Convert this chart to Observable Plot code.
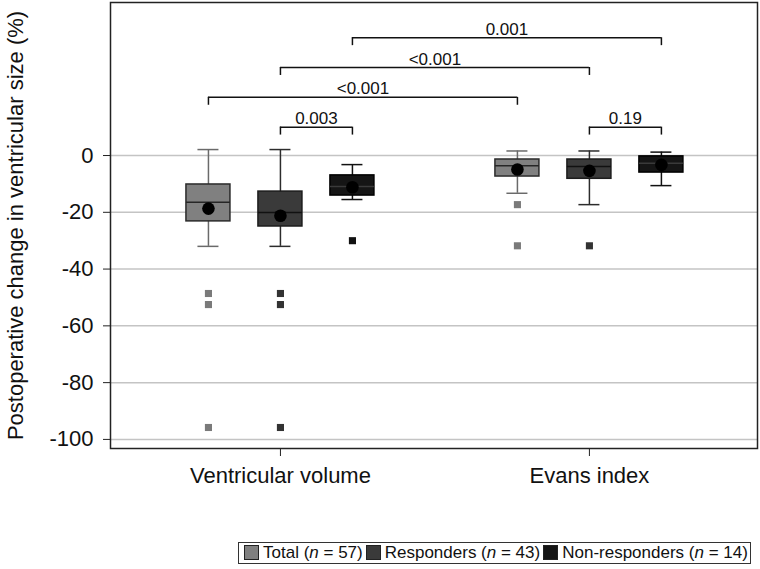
<!DOCTYPE html>
<html>
<head>
<meta charset="utf-8">
<script src="https://cdn.jsdelivr.net/npm/d3@7"></script>
<script src="https://cdn.jsdelivr.net/npm/@observablehq/plot@0.6"></script>
<style>
  body { margin: 0; background: #fff; font-family: "Liberation Sans", Arial, sans-serif; }
  #legend { position: absolute; left: 238px; top: 542px; border: 1.5px solid #333; padding: 0 2px; font-size: 17px; line-height: 20px; white-space: nowrap; color: #111; }
  #legend .sw { display: inline-block; width: 15px; height: 15px; border: 1px solid #222; vertical-align: -2px; margin: 0 4px 0 3px; box-sizing: border-box; }
</style>
</head>
<body>
<div id="chart"></div>
<div id="legend"></div>
<script>
// ---- data ----
const categories = ["Ventricular volume", "Evans index"];
const groups = ["Total", "Responders", "Non-responders"];
const groupN = [57, 43, 14];

// one entry per box (category index, group index)
const boxCat   = [0, 0, 0, 1, 1, 1];
const boxGroup = [0, 1, 2, 0, 1, 2];
const whiskerHigh = [2.1, 2.1, -3.2, 1.6, 1.6, 1.2];
const q3          = [-10.2, -12.7, -7.0, -1.4, -1.4, -0.3];
const median      = [-16.5, -20.1, -10.9, -3.6, -3.9, -2.7];
const q1          = [-23.2, -25.0, -14.1, -7.4, -8.2, -6.0];
const whiskerLow  = [-32.0, -32.0, -15.5, -13.3, -17.3, -10.6];
const means       = [-18.7, -21.2, -11.2, -4.9, -5.4, -3.3];

// outliers (box index, value)
const outlierBox   = [0, 0, 0, 1, 1, 1, 2, 3, 3, 4];
const outlierValue = [-48.6, -52.5, -95.8, -48.6, -52.5, -95.8, -30.0, -17.3, -31.8, -31.8];

// significance brackets
const bracketLabels = ["0.003", "<0.001", "<0.001", "0.001", "0.19"];
const bracketFrom   = [1, 0, 1, 2, 4];
const bracketTo     = [2, 3, 4, 5, 5];
const bracketLevel  = [0, 1, 2, 3, 0];

const yTicks = [0, -20, -40, -60, -80, -100];

// ---- layout / style ----
const GROUP_STEP = 0.233, HALF_BOX = 0.0712, HALF_CAP = 0.034;
const LEVEL_BASE = 10, LEVEL_STEP = 10.5, BRACKET_DROP = 2.8;
const fills   = ["#808080", "#3a3a3a", "#151515"];
const strokes = ["#2a2a2a", "#1c1c1c", "#000000"];
const whiskerColors = ["#6a6a6a", "#2c2c2c", "#111111"];
const medianColors  = ["#262626", "#111111", "#3a3a3a"];
const outlierColors = ["#7a7a7a", "#333333", "#111111"];

const xpos = i => boxCat[i] + (boxGroup[i] - 1) * GROUP_STEP;

const boxes = boxCat.map((c, i) => ({
  i, g: boxGroup[i], x: xpos(i),
  hi: whiskerHigh[i], q3: q3[i], med: median[i], q1: q1[i], lo: whiskerLow[i], mean: means[i]
}));
const outliers = outlierBox.map((b, k) => ({x: xpos(b), g: boxGroup[b], v: outlierValue[k]}));
const brackets = bracketLabels.map((t, k) => ({
  label: t, xa: xpos(bracketFrom[k]), xb: xpos(bracketTo[k]),
  y: LEVEL_BASE + bracketLevel[k] * LEVEL_STEP
}));
const bracketEnds = brackets.flatMap(b => [{x: b.xa, y: b.y}, {x: b.xb, y: b.y}]);

const plot = Plot.plot({
  width: 760,
  height: 530,
  marginLeft: 110,
  marginRight: 3,
  marginTop: 2,
  marginBottom: 82,
  style: {fontFamily: "Liberation Sans, Arial, sans-serif", fontSize: "22px", color: "#111", background: "#fff"},
  x: {domain: [-0.550, 1.544]},
  y: {domain: [-103.2, 53.9]},
  marks: [
    Plot.ruleY(yTicks, {stroke: "#c4c4c4", strokeWidth: 1.5}),
    Plot.frame({stroke: "#222", strokeWidth: 1.5}),
    Plot.axisY({ticks: yTicks, tickFormat: d => String(d), tickSize: 7, tickPadding: 10, fontSize: 22, label: null, stroke: "#222"}),
    Plot.axisX({ticks: [0, 1], tickFormat: i => categories[i], tickSize: 8, tickPadding: 11, fontSize: 22, label: null, stroke: "#222"}),
    Plot.text(["Postoperative change in ventricular size (%)"], {
      text: d => d, frameAnchor: "left", textAnchor: "middle", rotate: -90, dx: -95, fontSize: 22, fill: "#111"
    }),
    // whiskers
    Plot.ruleX(boxes, {x: "x", y1: "lo", y2: "hi", stroke: d => whiskerColors[d.g], strokeWidth: 1.5}),
    Plot.ruleY(boxes, {x1: d => d.x - HALF_CAP, x2: d => d.x + HALF_CAP, y: "hi", stroke: d => whiskerColors[d.g], strokeWidth: 1.5}),
    Plot.ruleY(boxes, {x1: d => d.x - HALF_CAP, x2: d => d.x + HALF_CAP, y: "lo", stroke: d => whiskerColors[d.g], strokeWidth: 1.5}),
    // boxes
    Plot.rect(boxes, {x1: d => d.x - HALF_BOX, x2: d => d.x + HALF_BOX, y1: "q1", y2: "q3",
      fill: d => fills[d.g], stroke: d => strokes[d.g], strokeWidth: 1.5}),
    Plot.ruleY(boxes, {x1: d => d.x - HALF_BOX, x2: d => d.x + HALF_BOX, y: "med", stroke: d => medianColors[d.g], strokeWidth: 1.5}),
    // means
    Plot.dot(boxes, {x: "x", y: "mean", r: 6.3, fill: "#000", stroke: null}),
    // outliers
    Plot.dot(outliers, {x: "x", y: "v", symbol: "square", r: 4, fill: d => outlierColors[d.g], stroke: null}),
    // brackets
    Plot.ruleY(brackets, {x1: "xa", x2: "xb", y: "y", stroke: "#111", strokeWidth: 1.5}),
    Plot.ruleX(bracketEnds, {x: "x", y1: d => d.y - BRACKET_DROP, y2: "y", stroke: "#111", strokeWidth: 1.5}),
    Plot.text(brackets, {x: d => (d.xa + d.xb) / 2, y: "y", text: "label", dy: -3, lineAnchor: "bottom", fontSize: 17, fill: "#111"})
  ]
});
document.getElementById("chart").appendChild(plot);

// legend
const legend = document.getElementById("legend");
groups.forEach((g, i) => {
  const sw = document.createElement("span");
  sw.className = "sw";
  sw.style.background = fills[i];
  legend.appendChild(sw);
  const t = document.createElement("span");
  t.innerHTML = `${g} (<i>n</i> = ${groupN[i]})`;
  legend.appendChild(t);
});
</script>
</body>
</html>
